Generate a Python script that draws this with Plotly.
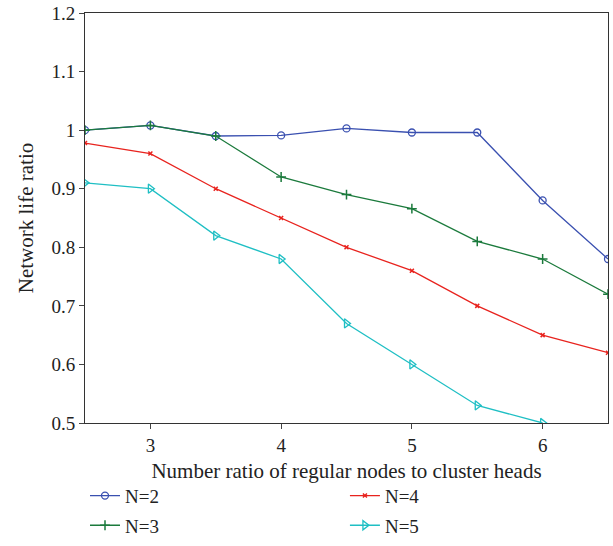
import plotly.graph_objects as go

x = [2.5, 3, 3.5, 4, 4.5, 5, 5.5, 6, 6.5]
n2 = [1.0, 1.008, 0.99, 0.991, 1.003, 0.996, 0.996, 0.88, 0.78]
n3 = [1.0, 1.008, 0.99, 0.92, 0.89, 0.866, 0.81, 0.78, 0.72]
n4 = [0.978, 0.96, 0.90, 0.85, 0.80, 0.76, 0.70, 0.65, 0.62]
x5 = [2.5, 3, 3.5, 4, 4.5, 5, 5.5, 6]
n5 = [0.91, 0.90, 0.82, 0.78, 0.67, 0.60, 0.53, 0.50]

font = "Liberation Serif"
fig = go.Figure()
fig.add_trace(go.Scatter(x=x, y=n2, name="N=2", mode="lines+markers", legend="legend", legendgroup="a",
                         line=dict(color="#3a50b0", width=1.3),
                         marker=dict(symbol="circle-open", size=7, color="#3a50b0", line=dict(width=1.3))))
fig.add_trace(go.Scatter(x=x, y=n3, name="N=3", mode="lines+markers", legend="legend", legendgroup="b",
                         line=dict(color="#1b7a3c", width=1.3),
                         marker=dict(symbol="cross-thin-open", size=7, color="#1b7a3c", line=dict(width=1.5, color="#1b7a3c"))))
fig.add_trace(go.Scatter(x=x, y=n4, name="N=4", mode="lines+markers", legend="legend2", legendgroup="c",
                         line=dict(color="#e8231e", width=1.3),
                         marker=dict(symbol="x-thin-open", size=4, color="#e8231e", line=dict(width=1.5, color="#e8231e"))))
fig.add_trace(go.Scatter(x=x5, y=n5, name="N=5", mode="lines+markers", legend="legend2", legendgroup="d",
                         line=dict(color="#1fbfc4", width=1.3),
                         marker=dict(symbol="triangle-right-open", size=8, color="#1fbfc4", line=dict(width=1.3))))

leg = dict(yanchor="top", y=-0.131, xanchor="left", font=dict(family=font, size=19, color="#222222"),
           tracegroupgap=2, bgcolor="rgba(0,0,0,0)", itemwidth=30)

fig.update_layout(
    width=613, height=546,
    margin=dict(l=85, r=5, t=13, b=123, autoexpand=False),
    plot_bgcolor="white", paper_bgcolor="white",
    font=dict(family=font, size=17.5, color="#222222"),
    xaxis=dict(range=[2.5, 6.5], tickvals=[3, 4, 5, 6], ticks="outside", ticklen=5,
               tickfont=dict(family=font, size=19, color="#222222"),
               showline=True, linecolor="#333333", linewidth=1, mirror=True, showgrid=False,
               zeroline=False,
               title=dict(text="Number ratio of regular nodes to cluster heads", standoff=8)),
    yaxis=dict(range=[0.5, 1.2], dtick=0.1, ticks="outside", ticklen=5,
               tickfont=dict(family=font, size=19, color="#222222"),
               showline=True, linecolor="#333333", linewidth=1, mirror=True, showgrid=False,
               zeroline=False,
               title=dict(text="Network life ratio", standoff=12)),
    legend=dict(x=0.0, **leg),
    legend2=dict(x=0.497, **leg),
    showlegend=True,
)

fig.write_html("out.html")
